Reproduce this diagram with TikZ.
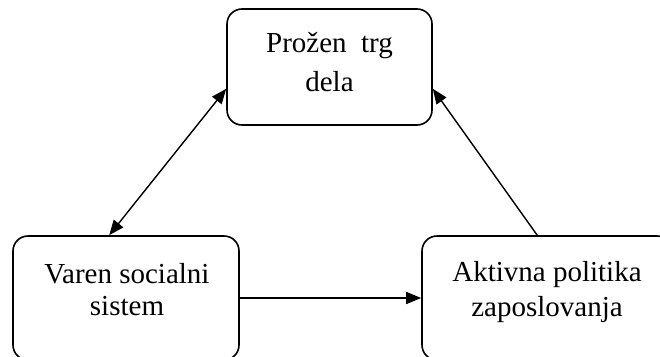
\documentclass[tikz,border=0pt]{standalone}
\usepackage{fontspec}
\setmainfont{Liberation Serif}
\usetikzlibrary{arrows.meta}
\begin{document}
\begin{tikzpicture}[x=1pt,y=-1pt,
  box/.style={draw,line width=1.6pt,rounded corners=15pt,inner sep=0pt},
  lbl/.style={align=center,inner sep=0pt,anchor=base},
  conn/.style={line width=1.4pt,-{Triangle[length=15pt,width=12pt]}},
  conn2/.style={line width=1.4pt,{Triangle[length=15pt,width=12pt]}-{Triangle[length=15pt,width=12pt]}}]
\useasboundingbox (0,0) rectangle (660,356);
\node[box,minimum width=205pt,minimum height=116pt] (T) at (329.5,67) {};
\node[box,minimum width=226pt,minimum height=124pt] (L) at (126,298) {};
\node[box,minimum width=250pt,minimum height=124pt] (R) at (547,298) {};
\node[lbl,font=\fontsize{29}{39}\selectfont] (tT) at (329.5,91) {Prožen\ \ trg\\dela};
\node[lbl,font=\fontsize{29}{32}\selectfont] (tL) at (127,315) {Varen socialni\\sistem};
\node[lbl,font=\fontsize{29}{35}\selectfont] (tR) at (547,316) {Aktivna politika\\zaposlovanja};
\draw[conn2] ([xshift=97pt]L.north west) -- ([yshift=37pt]T.south west);
\draw[conn] ([xshift=116pt]R.north west) -- ([yshift=37pt]T.south east);
\draw[conn] (L.east) -- (R.west);
\end{tikzpicture}
\end{document}
